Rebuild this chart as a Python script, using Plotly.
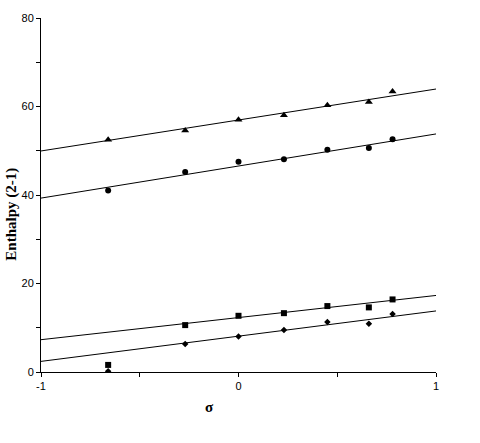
import plotly.graph_objects as go
import numpy as np

sigma = [-0.66, -0.27, 0.0, 0.23, 0.45, 0.66, 0.78]
triangles = [52.5, 54.6, 57.0, 58.0, 60.3, 61.0, 63.4]
circles = [41.0, 45.2, 47.5, 48.1, 50.2, 50.6, 52.6]
squares = [1.6, 10.6, 12.7, 13.3, 14.9, 14.6, 16.4]
diamonds = [0.15, 6.3, 8.0, 9.5, 11.3, 10.9, 13.1]

fit_x = [-1, 1]
fit_intercepts = [56.95, 46.55, 12.3, 8.1]
fit_slopes = [7.0, 7.25, 5.0, 5.7]

y_ticks = [0, 20, 40, 60, 80]
x_ticks = [-1, 0, 1]

fig = go.Figure()
series = [(triangles, "triangle-up", 7), (circles, "circle", 6),
          (squares, "square", 6), (diamonds, "diamond", 5)]
for (vals, sym, sz), b, m in zip(series, fit_intercepts, fit_slopes):
    fx = np.array(fit_x, dtype=float)
    fig.add_trace(go.Scatter(x=fx, y=b + m * fx, mode="lines",
                             line=dict(color="black", width=1), showlegend=False,
                             hoverinfo="skip"))
    fig.add_trace(go.Scatter(x=sigma, y=vals, mode="markers",
                             marker=dict(symbol=sym, size=sz, color="black"),
                             showlegend=False))

tickfont = dict(family="Liberation Sans, Arial, sans-serif", size=11, color="black")
fig.update_layout(
    width=480, height=443,
    margin=dict(l=41, r=44, t=12, b=71),
    paper_bgcolor="white", plot_bgcolor="white",
    xaxis=dict(range=[-1, 1], showgrid=False, zeroline=False, showline=True,
               linecolor="black", linewidth=1, ticks="outside", ticklen=4,
               tickcolor="black", tickvals=[-1, -0.5, 0, 0.5, 1],
               ticktext=["-1", "", "0", "", "1"], tickfont=tickfont),
    yaxis=dict(range=[0, 80], showgrid=False, zeroline=False, showline=True,
               linecolor="black", linewidth=1, ticks="outside", ticklen=4,
               tickcolor="black", tickvals=[0, 10, 20, 30, 40, 50, 60, 70, 80],
               ticktext=["0", "", "20", "", "40", "", "60", "", "80"],
               tickfont=tickfont),
    annotations=[
        dict(text="<b>Enthalpy (2-1)</b>", xref="paper", yref="paper",
             x=-41/395 + 12/395, y=(372-212)/360, textangle=-90, showarrow=False,
             font=dict(family="Liberation Serif, Times New Roman, serif", size=15, color="black"),
             xanchor="center", yanchor="middle"),
        dict(text="<b>σ</b>", xref="paper", yref="paper",
             x=(209-41)/395, y=-(408-372)/360, showarrow=False,
             font=dict(family="Liberation Serif, Times New Roman, serif", size=15, color="black"),
             xanchor="center", yanchor="middle"),
    ],
)
fig.write_html("out.html", config={"displayModeBar": False},
               post_script="document.body.style.margin='0';document.body.style.overflow='hidden';")
